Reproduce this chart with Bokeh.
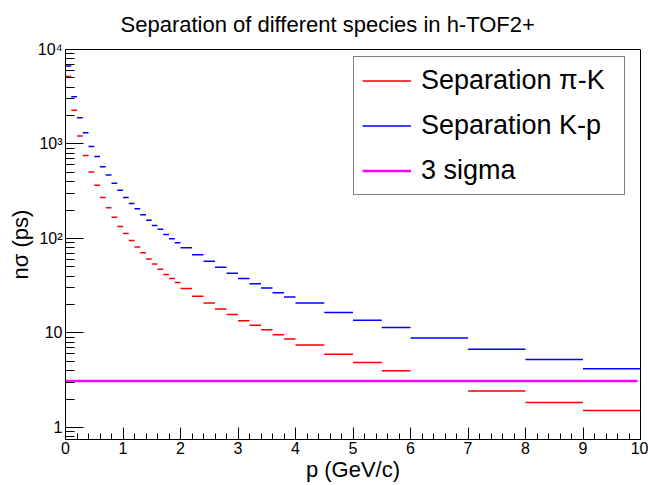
from bokeh.plotting import figure
from bokeh.models import FixedTicker, Legend, LegendItem, ColumnDataSource
from bokeh.embed import file_html
from bokeh.resources import INLINE

# ---- data ----
bin_edges = [0.0, 0.1, 0.2, 0.3, 0.4, 0.5, 0.6, 0.7, 0.8, 0.9, 1.0,
             1.1, 1.2, 1.3, 1.4, 1.5, 1.6, 1.7, 1.8, 1.9, 2.0,
             2.2, 2.4, 2.6, 2.8, 3.0, 3.2, 3.4, 3.6, 3.8, 4.0,
             4.5, 5.0, 5.5, 6.0, 7.0, 8.0, 9.0, 10.0]

sep_pi_k = [5190, 2280, 1214, 757, 506, 365, 271, 211, 168, 134,
            113, 95.5, 81.2, 70.8, 60.7, 53.7, 47.2, 41.5, 37.7, 34.2,
            29.6, 24.5, 20.7, 17.9, 15.7, 13.5, 12.1, 10.8, 9.6, 8.65,
            7.48, 5.97, 4.87, 3.98, 3.1, 2.43, 1.84, 1.51]

sep_k_p = [6670, 3170, 1890, 1315, 941, 738, 575, 470, 384, 324,
           271, 234, 206, 178, 156, 137, 125, 110, 99.5, 90.3,
           80.0, 67.3, 57.4, 49.6, 42.8, 37.7, 33.1, 30.0, 26.6, 24.1,
           20.7, 16.5, 13.6, 11.4, 8.86, 6.73, 5.23, 4.18]

three_sigma_x = [0.0, 9.95]
three_sigma_y = [3.1, 3.1]

x_ticks = [0, 1, 2, 3, 4, 5, 6, 7, 8, 9, 10]
x_tick_labels = ["0", "1", "2", "3", "4", "5", "6", "7", "8", "9", "10"]
x_minor_ticks = [i / 5 for i in range(51)]
y_ticks = [1, 10, 100, 1000, 10000]
y_tick_labels = ["1", "10", "10\u00b2", "10\u00b3", "10\u2074"]
y_minor_ticks = [0.8, 0.9] + [m * 10 ** d for d in range(4) for m in range(2, 10)]

title_text = "Separation of different species in h-TOF2+"
series_names = ["Separation \u03c0-K", "Separation K-p", "3 sigma"]
series_colors = ["#ff0000", "#0000ff", "#ff00ff"]

FONT = "Liberation Sans"

p = figure(width=648, height=485, x_range=(0, 10), y_range=(0.746, 10000),
           y_axis_type="log", output_backend="svg", toolbar_location=None,
           min_border_left=65, min_border_right=8, min_border_top=47,
           min_border_bottom=46)

p.title.text = title_text
p.title.text_font = FONT
p.title.text_font_size = "22px"
p.title.text_font_style = "normal"
p.title.text_color = "black"
p.title.align = "left"
p.title.offset = 55
p.title.standoff = 22
p.title.vertical_align = "top"

p.xgrid.visible = False
p.ygrid.visible = False
p.outline_line_color = "black"
p.outline_line_width = 1

src_pk = ColumnDataSource(dict(x0=bin_edges[:-1], x1=bin_edges[1:], y=sep_pi_k))
src_kp = ColumnDataSource(dict(x0=bin_edges[:-1], x1=bin_edges[1:], y=sep_k_p))

r_pk = p.segment(x0="x0", x1="x1", y0="y", y1="y", source=src_pk,
                 line_color=series_colors[0], line_width=1.5)
r_kp = p.segment(x0="x0", x1="x1", y0="y", y1="y", source=src_kp,
                 line_color=series_colors[1], line_width=1.5)
r_3s = p.line(three_sigma_x, three_sigma_y, line_color=series_colors[2], line_width=2.5)

# axes in ROOT style: ticks inside
xa = p.xaxis[0]
xa.ticker = FixedTicker(ticks=x_ticks, minor_ticks=x_minor_ticks)
xa.major_label_overrides = {t: l for t, l in zip(x_ticks, x_tick_labels)}
xa.major_tick_in = 12
xa.major_tick_out = 0
xa.minor_tick_in = 6
xa.minor_tick_out = 0
xa.major_label_standoff = 2
xa.major_label_text_font = FONT
xa.major_label_text_font_size = "16px"
xa.major_label_text_color = "black"
xa.axis_label = "p (GeV/c)"
xa.axis_label_text_font = FONT
xa.axis_label_text_font_size = "22px"
xa.axis_label_text_font_style = "normal"
xa.axis_label_text_color = "black"
xa.axis_label_standoff = 0
xa.axis_line_color = "black"
xa.major_tick_line_color = "black"
xa.minor_tick_line_color = "black"

ya = p.yaxis[0]
ya.ticker = FixedTicker(ticks=y_ticks, minor_ticks=y_minor_ticks)
ya.major_label_overrides = {t: l for t, l in zip(y_ticks, y_tick_labels)}
ya.major_tick_in = 18
ya.major_tick_out = 0
ya.minor_tick_in = 9
ya.minor_tick_out = 0
ya.major_label_standoff = 3
ya.major_label_text_font = FONT
ya.major_label_text_font_size = "16px"
ya.major_label_text_color = "black"
ya.axis_label = "n\u03c3 (ps)"
ya.axis_label_text_font = FONT
ya.axis_label_text_font_size = "22px"
ya.axis_label_text_font_style = "normal"
ya.axis_label_text_color = "black"
ya.axis_label_standoff = 2
ya.axis_line_color = "black"
ya.major_tick_line_color = "black"
ya.minor_tick_line_color = "black"

legend = Legend(items=[LegendItem(label=series_names[0], renderers=[r_pk]),
                       LegendItem(label=series_names[1], renderers=[r_kp]),
                       LegendItem(label=series_names[2], renderers=[r_3s])],
                location=(288, 244))
legend.label_text_font = FONT
legend.label_text_font_size = "27px"
legend.label_text_color = "black"
legend.glyph_width = 49
legend.glyph_height = 31
legend.label_height = 31
legend.label_standoff = 10
legend.label_width = 195
legend.padding = 8
legend.spacing = 14
legend.margin = 0
legend.border_line_color = "black"
legend.border_line_width = 1
legend.background_fill_color = "white"
legend.background_fill_alpha = 1
p.add_layout(legend)

open("out.html", "w").write(file_html(p, INLINE))
